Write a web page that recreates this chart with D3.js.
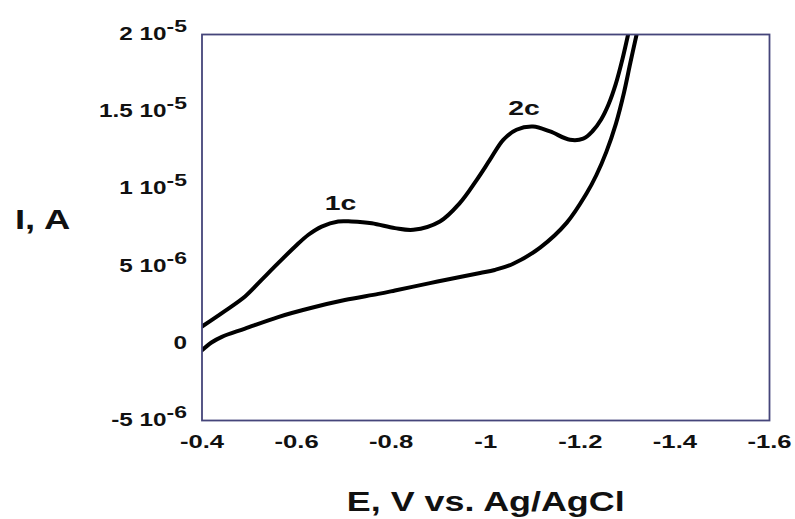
<!DOCTYPE html>
<html>
<head>
<meta charset="utf-8">
<script src="https://cdn.jsdelivr.net/npm/d3@7"></script>
<style>
  body { margin: 0; background: #fff; }
  text { font-family: "Liberation Sans", Arial, sans-serif; font-weight: bold; fill: #111; }
</style>
</head>
<body>
<div id="chart"></div>
<script>
// potential (V) and current (in 1e-6 A)
var upperE = [-0.400, -0.442, -0.491, -0.526, -0.561, -0.597, -0.625, -0.653, -0.688, -0.716, -0.759, -0.808,
  -0.847, -0.903, -0.945, -0.981, -1.009, -1.037, -1.065, -1.100, -1.136, -1.178, -1.206, -1.226, -1.244,
  -1.260, -1.275, -1.289, -1.301];
var upperI = [1.09, 1.96, 3.03, 4.11, 5.19, 6.27, 7.03, 7.56, 7.89, 7.89, 7.78, 7.46,
  7.35, 7.89, 9.08, 10.59, 11.89, 13.18, 13.83, 14.04, 13.72, 13.18, 13.25, 13.75, 14.5,
  15.5, 16.8, 18.4, 20.0];

var lowerE = [-0.400, -0.420, -0.442, -0.491, -0.561, -0.632, -0.702, -0.773, -0.808, -0.882, -0.914, -0.988,
  -1.019, -1.058, -1.115, -1.171, -1.213, -1.234, -1.255, -1.275, -1.292, -1.306, -1.319];
var lowerI = [-0.45, 0.05, 0.42, 0.95, 1.70, 2.30, 2.80, 3.20, 3.42, 3.90, 4.10, 4.55,
  4.75, 5.15, 6.20, 7.80, 9.70, 10.90, 12.40, 14.20, 16.20, 18.20, 20.0];

var xTicks = [-0.4, -0.6, -0.8, -1, -1.2, -1.4, -1.6];
var yTicks = [-5e-6, 0, 5e-6, 1e-5, 1.5e-5, 2e-5];
var yTickBase = ['-5 10', '0', '5 10', '1 10', '1.5 10', '2 10'];
var yTickExp = ['-6', '', '-6', '-5', '-5', '-5'];

var peakLabels = ['1c', '2c'];
var peakE = [-0.693, -1.081];
var peakI = [8.65, 14.8];

var width = 795, height = 519;
var margin = { top: 34.5, right: 25.5, bottom: 98.5, left: 202 };
var stretch = 1.35; // the picture's text is wide

var svg = d3.select('#chart').append('svg')
  .attr('width', width)
  .attr('height', height);

var x = d3.scaleLinear().domain([-0.4, -1.6]).range([margin.left, width - margin.right]);
var y = d3.scaleLinear().domain([-5e-6, 2e-5]).range([height - margin.bottom, margin.top]);

svg.append('clipPath').attr('id', 'plotclip')
  .append('rect')
  .attr('x', x(-0.4)).attr('y', y(2e-5))
  .attr('width', x(-1.6) - x(-0.4)).attr('height', y(-5e-6) - y(2e-5));

var line = d3.line()
  .x(function (d) { return x(d[0]); })
  .y(function (d) { return y(d[1] * 1e-6); })
  .curve(d3.curveCatmullRom.alpha(0.5));

var curves = [d3.zip(upperE, upperI), d3.zip(lowerE, lowerI)];

svg.append('g').attr('clip-path', 'url(#plotclip)')
  .selectAll('path')
  .data(curves)
  .enter()
  .append('path')
  .attr('d', line)
  .attr('fill', 'none')
  .attr('stroke', '#000')
  .attr('stroke-width', 4)
  .attr('stroke-linejoin', 'round')
  .attr('stroke-linecap', 'round');

// frame
svg.append('rect')
  .attr('x', x(-0.4)).attr('y', y(2e-5))
  .attr('width', x(-1.6) - x(-0.4)).attr('height', y(-5e-6) - y(2e-5))
  .attr('fill', 'none')
  .attr('stroke', '#45457a')
  .attr('stroke-width', 1.8);

// x tick labels
svg.append('g').selectAll('text')
  .data(xTicks)
  .enter()
  .append('text')
  .attr('transform', function (d) { return 'translate(' + x(d) + ',447.5) scale(' + stretch + ',1)'; })
  .attr('text-anchor', 'middle')
  .style('font-size', '19px')
  .text(function (d) { return String(d); });

// y tick labels with superscript exponent
var yl = svg.append('g').selectAll('text')
  .data(yTicks)
  .enter()
  .append('text')
  .attr('transform', function (d) { return 'translate(187,' + (y(d) + 5.5) + ') scale(' + stretch + ',1)'; })
  .attr('text-anchor', 'end')
  .style('font-size', '18px');
yl.append('tspan')
  .text(function (d, i) { return yTickBase[i]; });
yl.append('tspan')
  .attr('dy', -8)
  .style('font-size', '17px')
  .text(function (d, i) { return yTickExp[i]; });

// peak labels
svg.append('g').selectAll('text')
  .data(peakLabels)
  .enter()
  .append('text')
  .attr('transform', function (d, i) { return 'translate(' + x(peakE[i]) + ',' + y(peakI[i] * 1e-6) + ') scale(' + stretch + ',1)'; })
  .attr('text-anchor', 'middle')
  .style('font-size', '21px')
  .text(function (d) { return d; });

// axis titles
svg.append('text')
  .attr('transform', 'translate(' + (x(-0.4) + x(-1.6)) / 2 + ',511) scale(1.33,1)')
  .attr('text-anchor', 'middle')
  .style('font-size', '27px')
  .text('E, V vs. Ag/AgCl');

svg.append('text')
  .attr('transform', 'translate(15,229) scale(1.3,1)')
  .style('font-size', '28px')
  .text('I, A');
</script>
</body>
</html>
